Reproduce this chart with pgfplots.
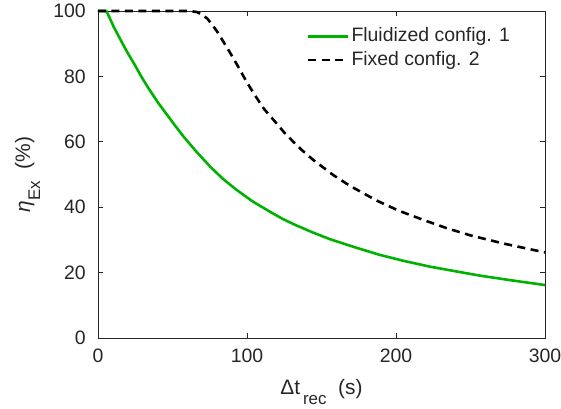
\documentclass[border=0pt]{standalone}
\usepackage{fontspec}
\setmainfont{Liberation Sans}
\usepackage{pgfplots}
\pgfplotsset{compat=1.18}
\definecolor{mgreen}{RGB}{0,178,0}
\definecolor{axgray}{RGB}{38,38,38}
\newcommand\tickfont{\fontsize{19.5}{23}\selectfont}
\newcommand\labfont{\fontsize{21}{25}\selectfont}
\newcommand\sub[1]{\raisebox{-10bp}{\fontsize{17}{20}\selectfont #1}}
\begin{document}
\begin{tikzpicture}
\path[use as bounding box] (-98bp,-71bp) rectangle (463bp,338bp);
\begin{axis}[
  at={(0,0)}, anchor=south west,
  scale only axis, width=447bp, height=327bp,
  xmin=0, xmax=300, ymin=0, ymax=100,
  xtick={0,100,200,300}, ytick={0,20,40,60,80,100},
  tick align=inside, major tick length=5bp,
  tick style={axgray, line width=0.8bp},
  axis line style={axgray, line width=0.8bp},
  /pgf/number format/assume math mode=true,
  ticklabel style={font=\tickfont, text=axgray},
  xticklabel style={anchor=north, inner sep=0pt, yshift=-11bp},
  yticklabel style={anchor=east, inner sep=0pt, xshift=-12bp},
  clip=false,
  xlabel={Δt\sub{\,rec}\ \ (s)},
  ylabel={\textit{η}\sub{Ex}\ \ (\%)},
  xlabel style={at={(axis description cs:0.5,-0.1743)}, anchor=base, font=\labfont, text=axgray},
  ylabel style={at={(axis description cs:-0.1521,0.5)}, anchor=base, font=\labfont, text=axgray},
  legend style={at={(rel axis cs:0.4669,0.9495)}, anchor=north west, draw=none, fill=none,
    inner sep=0pt, row sep=5.3bp,
    nodes={inner xsep=2bp, inner ysep=0pt, text height=14bp, text depth=4bp, font=\tickfont, text=axgray, anchor=west}},
  legend cell align=left,
  legend image code/.code={\draw[#1] (0bp,0bp) -- (40bp,0bp);},
]
\addplot[mgreen, line width=2.6bp, line join=round] coordinates {
 (0,100) (5.7,100) (10.5,95.2) (15.7,90.7) (20,87.1) (24.6,83.6) (29,80) (33.7,76.5)
 (40.4,71.9) (47.1,67.8) (52,64.8) (57.4,61.6) (66,57) (75.3,52.4) (84,48.6) (93,45.3)
 (104,41.7) (115.5,38.6) (124,36.4) (132.3,34.6) (144,32.3) (155.8,30.2) (172,27.8)
 (189.2,25.4) (206,23.5) (223,21.8) (240,20.4) (256,19.1) (278,17.6) (300,16.2)
};
\addlegendentry{Fluidized config. 1}
\addplot[black, line width=2.6bp, dash pattern=on 8bp off 5.5bp] coordinates {
 (0,100) (60,100) (63,99.9) (66.2,99.7) (70,98.9) (73.5,97.6) (76.8,95.7) (80,93.7)
 (83.1,91.4) (88.7,87.2) (94.3,82.8) (99.9,78.2) (105.5,74.1) (111.5,70) (118.2,66.5)
 (124.9,62.9) (131.1,60) (137,57.4) (144.6,54.4) (158,49.8) (169.2,46.5) (187.2,42.0)
 (202,38.9) (218.4,36.1) (234,33.6) (249.8,31.4) (272,28.9) (295.6,26.6) (300,26.2)
};
\addlegendentry{Fixed config. 2}
\end{axis}
\end{tikzpicture}
\end{document}
